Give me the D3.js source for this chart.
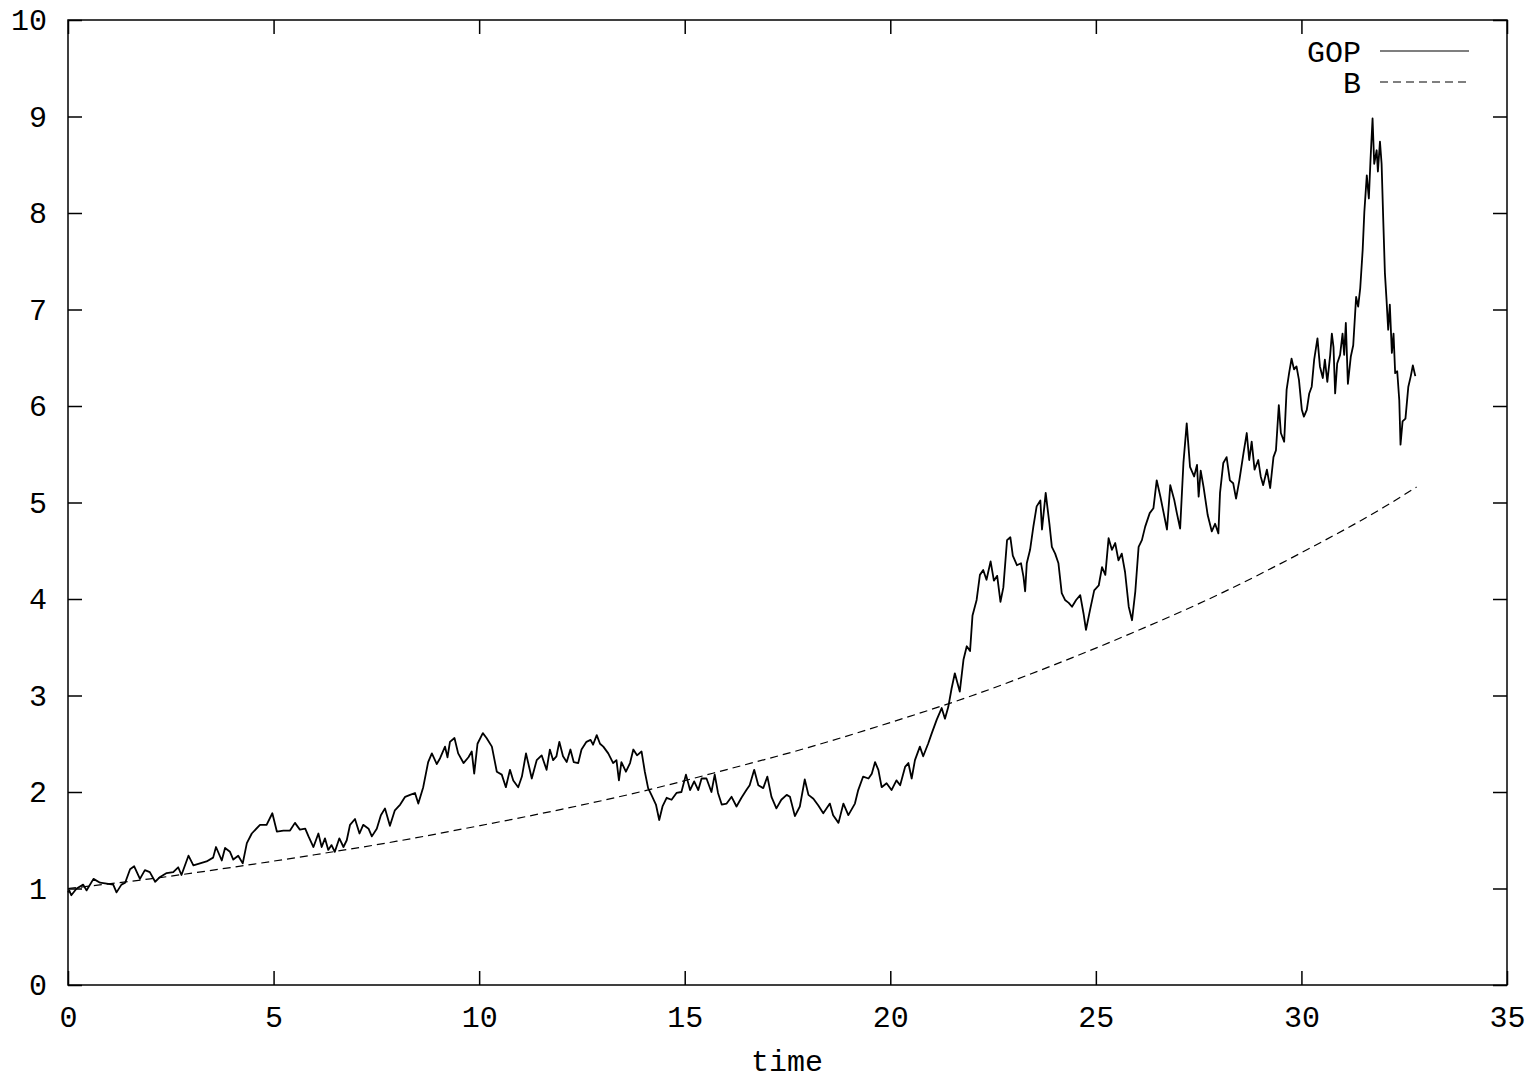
<!DOCTYPE html>
<html>
<head>
<meta charset="utf-8">
<script src="https://cdn.jsdelivr.net/npm/d3@7"></script>
<style>
  html, body { margin: 0; padding: 0; background: #fff; }
  svg { display: block; }
  text { font-family: "Liberation Mono", "Courier New", monospace; font-size: 30px; fill: #000; }
</style>
</head>
<body>
<svg id="chart" width="1528" height="1080"></svg>
<script>
// Axis ticks
const xTicks = [0, 5, 10, 15, 20, 25, 30, 35];
const yTicks = [0, 1, 2, 3, 4, 5, 6, 7, 8, 9, 10];
const xLabel = "time";
const seriesNames = ["GOP", "B"];

// GOP path: [time, value]
const gop = [
  [0.00,0.96],[0.03,0.98],[0.08,0.93],[0.21,1.00],[0.37,1.04],[0.45,0.98],[0.62,1.10],[0.78,1.06],[0.94,1.05],[1.10,1.04],
  [1.18,0.96],[1.30,1.04],[1.39,1.06],[1.51,1.20],[1.61,1.23],[1.75,1.10],[1.87,1.19],[1.99,1.17],[2.12,1.07],[2.24,1.12],
  [2.40,1.16],[2.56,1.17],[2.68,1.22],[2.76,1.14],[2.93,1.34],[3.05,1.24],[3.21,1.26],[3.37,1.28],[3.53,1.32],[3.60,1.43],
  [3.74,1.29],[3.82,1.42],[3.94,1.38],[4.02,1.30],[4.14,1.34],[4.25,1.26],[4.35,1.47],[4.47,1.57],[4.67,1.66],[4.83,1.66],
  [4.97,1.78],[5.08,1.59],[5.24,1.60],[5.40,1.60],[5.52,1.68],
  [5.64,1.61],[5.77,1.62],[5.85,1.54],[5.97,1.43],[6.09,1.57],[6.17,1.43],[6.25,1.52],[6.33,1.40],[6.41,1.45],[6.49,1.38],
  [6.60,1.52],[6.70,1.43],[6.78,1.50],[6.86,1.66],[6.98,1.72],[7.09,1.57],[7.18,1.66],[7.31,1.62],[7.39,1.54],[7.51,1.62],
  [7.61,1.76],[7.71,1.83],[7.83,1.65],[7.95,1.81],[8.08,1.87],[8.20,1.95],[8.32,1.97],[8.44,1.99],[8.52,1.88],[8.64,2.05],
  [8.76,2.31],[8.85,2.40],[8.97,2.29],[9.05,2.35],[9.17,2.47],[9.23,2.36],[9.29,2.52],[9.40,2.56],[9.49,2.40],[9.62,2.30],
  [9.74,2.36],[9.82,2.42],[9.88,2.19],[9.96,2.50],[10.09,2.61],[10.18,2.56],[10.31,2.47],[10.43,2.21],[10.55,2.18],[10.65,2.05],
  [10.75,2.23],[10.83,2.12],[10.95,2.05],[11.04,2.16],[11.14,2.40],[11.28,2.14],[11.40,2.33],[11.52,2.38],[11.64,2.23],
  [11.72,2.44],[11.80,2.33],[11.88,2.37],[11.95,2.52],[12.04,2.37],[12.13,2.31],[12.22,2.44],[12.30,2.31],[12.41,2.30],[12.49,2.44],
  [12.61,2.52],[12.71,2.54],[12.77,2.49],[12.86,2.59],[12.94,2.50],[13.02,2.47],[13.14,2.40],[13.26,2.30],[13.34,2.33],[13.40,2.12],
  [13.46,2.31],[13.57,2.21],[13.67,2.30],[13.75,2.44],[13.84,2.38],[13.95,2.42],[14.03,2.21],[14.11,2.04],[14.19,1.97],[14.30,1.87],
  [14.38,1.71],[14.46,1.85],[14.56,1.94],[14.68,1.92],[14.80,1.99],[14.92,2.00],[15.03,2.18],[15.13,2.02],[15.23,2.11],[15.33,2.02],
  [15.41,2.14],[15.53,2.14],[15.65,2.00],[15.73,2.18],[15.81,1.99],[15.90,1.87],[16.02,1.88],[16.14,1.95],[16.26,1.85],[16.38,1.94],
  [16.50,2.02],[16.58,2.07],[16.69,2.23],[16.79,2.07],[16.91,2.04],[17.01,2.16],[17.11,1.95],[17.23,1.83],[17.35,1.92],[17.48,1.97],
  [17.56,1.95],[17.68,1.75],[17.80,1.85],[17.92,2.13],[18.01,1.97],[18.13,1.93],[18.25,1.86],[18.37,1.78],[18.53,1.88],[18.61,1.76],
  [18.74,1.68],[18.86,1.88],[18.98,1.76],[19.14,1.88],[19.22,2.02],[19.34,2.16],[19.47,2.14],[19.55,2.19],[19.63,2.31],[19.71,2.23],
  [19.79,2.05],[19.91,2.09],[20.03,2.02],[20.15,2.12],[20.24,2.07],[20.36,2.26],[20.44,2.30],[20.52,2.14],[20.60,2.33],[20.72,2.47],
  [20.80,2.37],[20.92,2.50],[21.01,2.61],[21.13,2.75],[21.25,2.87],[21.33,2.76],[21.41,2.88],[21.49,3.07],[21.57,3.23],[21.69,3.04],
  [21.78,3.37],[21.86,3.51],[21.94,3.46],[22.00,3.83],[22.10,3.99],[22.18,4.25],[22.26,4.30],[22.34,4.20],[22.44,4.39],[22.52,4.19],
  [22.60,4.24],[22.68,3.97],[22.75,4.12],[22.84,4.61],
  [22.92,4.64],[22.98,4.45],[23.08,4.35],[23.18,4.37],[23.24,4.23],[23.28,4.08],[23.32,4.37],[23.40,4.51],[23.48,4.75],[23.56,4.96],
  [23.65,5.02],[23.69,4.72],[23.78,5.10],[23.87,4.78],[23.93,4.54],[24.01,4.47],[24.09,4.37],[24.17,4.06],[24.25,3.99],[24.34,3.96],
  [24.42,3.92],[24.52,3.99],[24.62,4.04],[24.70,3.85],[24.76,3.68],[24.86,3.89],[24.96,4.09],[25.07,4.14],[25.15,4.33],[25.23,4.25],
  [25.31,4.63],[25.39,4.51],[25.47,4.58],[25.55,4.40],[25.63,4.47],[25.71,4.28],[25.80,3.92],[25.88,3.78],[25.96,4.08],[26.04,4.54],
  [26.12,4.61],[26.20,4.75],[26.31,4.89],[26.40,4.94],[26.48,5.23],[26.57,5.06],[26.65,4.89],[26.73,4.72],[26.81,5.18],[26.91,5.02],
  [26.97,4.89],[27.05,4.73],[27.13,5.41],[27.21,5.82],[27.29,5.37],[27.39,5.27],[27.46,5.39],[27.50,5.06],[27.55,5.33],[27.62,5.16],
  [27.72,4.87],[27.82,4.70],[27.90,4.78],[27.98,4.68],
  [28.02,5.10],[28.10,5.41],[28.18,5.47],[28.26,5.23],[28.34,5.20],[28.41,5.04],[28.49,5.23],[28.59,5.51],[28.67,5.72],[28.73,5.44],
  [28.79,5.63],[28.86,5.34],[28.95,5.44],[29.01,5.27],[29.07,5.18],[29.16,5.34],[29.24,5.15],[29.32,5.47],[29.38,5.54],[29.45,6.01],
  [29.50,5.72],[29.58,5.63],[29.64,6.17],[29.70,6.34],[29.76,6.49],[29.82,6.38],[29.88,6.41],[29.94,6.27],[30.01,5.96],[30.06,5.89],
  [30.13,5.96],[30.19,6.13],[30.25,6.20],[30.31,6.48],[30.39,6.70],[30.45,6.41],[30.52,6.29],[30.57,6.48],[30.63,6.25],[30.70,6.53],
  [30.74,6.75],[30.78,6.61],[30.82,6.13],[30.87,6.44],[30.94,6.53],[31.00,6.75],[31.04,6.53],[31.08,6.86],[31.13,6.23],[31.20,6.51],
  [31.26,6.63],[31.33,7.13],[31.38,7.03],[31.43,7.22],[31.49,7.62],[31.53,8.01],[31.59,8.39],[31.64,8.15],[31.68,8.55],[31.73,8.98],
  [31.77,8.51],[31.83,8.65],[31.86,8.43],[31.91,8.74],[31.95,8.51],[31.99,7.93],[32.03,7.38],[32.07,7.10],[32.11,6.79],[32.15,7.05],
  [32.20,6.55],[32.24,6.75],[32.28,6.34],[32.33,6.36],[32.38,6.06],[32.41,5.60],[32.46,5.84],[32.53,5.87],[32.60,6.20],[32.66,6.31],
  [32.71,6.42],[32.77,6.31]
];

// B path: sampled time and value
const bTime  = [0, 2, 4, 6, 8, 10, 12, 14, 16, 18, 20, 22, 24, 26, 28, 30, 32, 32.8];
const bValue = [1.00, 1.10, 1.22, 1.35, 1.49, 1.65, 1.82, 2.01, 2.23, 2.46, 2.72, 3.00, 3.32, 3.67, 4.05, 4.48, 4.95, 5.16];

const svg = d3.select("#chart");
const W = 1528, H = 1080;
const plot = { left: 68, right: 1507, top: 20, bottom: 985 };
const tickLen = 14;
const fontSize = "30px";

svg.append("rect").attr("width", W).attr("height", H).attr("fill", "#fff");

const x = d3.scaleLinear().domain([0, 35]).range([plot.left, plot.right]);
const y = d3.scaleLinear().domain([0, 10]).range([plot.bottom, plot.top]);

// Frame
svg.append("rect")
  .attr("x", plot.left).attr("y", plot.top)
  .attr("width", plot.right - plot.left).attr("height", plot.bottom - plot.top)
  .attr("fill", "none").attr("stroke", "#000").attr("stroke-width", 1.5);

function styleAxis(g) {
  g.select(".domain").remove();
  g.selectAll(".tick line").attr("stroke", "#000").attr("stroke-width", 1.5);
  g.selectAll(".tick text").attr("fill", "#000").style("font-size", fontSize)
    .style("font-family", '"Liberation Mono", "Courier New", monospace');
}

// Bottom and left axes carry the labels; top and right mirror the ticks
svg.append("g").attr("transform", `translate(0,${plot.bottom})`)
  .call(d3.axisBottom(x).tickValues(xTicks).tickSizeInner(-tickLen).tickSizeOuter(0).tickPadding(21).tickFormat(d3.format("d")))
  .call(styleAxis);
svg.append("g").attr("transform", `translate(0,${plot.top})`)
  .call(d3.axisTop(x).tickValues(xTicks).tickSizeInner(-tickLen).tickSizeOuter(0).tickFormat(""))
  .call(styleAxis);
svg.append("g").attr("transform", `translate(${plot.left},0)`)
  .call(d3.axisLeft(y).tickValues(yTicks).tickSizeInner(-tickLen).tickSizeOuter(0).tickPadding(21).tickFormat(d3.format("d")))
  .call(styleAxis);
svg.append("g").attr("transform", `translate(${plot.right},0)`)
  .call(d3.axisRight(y).tickValues(yTicks).tickSizeInner(-tickLen).tickSizeOuter(0).tickFormat(""))
  .call(styleAxis);

// X axis title
svg.append("text")
  .attr("x", 787).attr("y", 1071)
  .attr("text-anchor", "middle").text(xLabel);

// Series
const gopLine = d3.line().x(d => x(d[0])).y(d => y(d[1]));
svg.append("path").datum(gop)
  .attr("d", gopLine).attr("fill", "none").attr("stroke", "#000")
  .attr("stroke-width", 1.8).attr("stroke-linejoin", "round");

const bData = bTime.map((t, i) => [t, bValue[i]]);
const bLine = d3.line().x(d => x(d[0])).y(d => y(d[1])).curve(d3.curveMonotoneX);
svg.append("path").datum(bData)
  .attr("d", bLine).attr("fill", "none").attr("stroke", "#000")
  .attr("stroke-width", 1.2).attr("stroke-dasharray", "8,5");

// Legend
const legend = svg.append("g");
const legendRows = [
  { name: seriesNames[0], dash: null, y: 51 },
  { name: seriesNames[1], dash: "8,5", y: 82 }
];
legendRows.forEach(r => {
  legend.append("text").attr("x", 1361).attr("y", r.y).attr("dy", "0.35em")
    .attr("text-anchor", "end").text(r.name);
  legend.append("line").attr("x1", 1380).attr("x2", 1469).attr("y1", r.y).attr("y2", r.y)
    .attr("stroke", "#000").attr("stroke-width", 1.2)
    .attr("stroke-dasharray", r.dash);
});
</script>
</body>
</html>
